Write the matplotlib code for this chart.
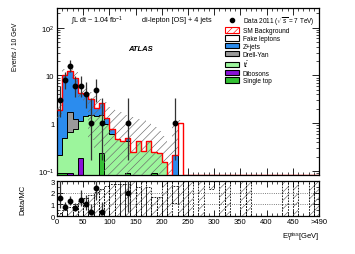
import math

import matplotlib
matplotlib.use("Agg")
import matplotlib.pyplot as plt
import numpy as np
from matplotlib.lines import Line2D
from matplotlib.patches import Patch
from matplotlib.ticker import FixedLocator, FixedFormatter, LogLocator, MultipleLocator, NullFormatter

plt.rcParams["font.family"] = ["Liberation Sans", "DejaVu Sans"]
plt.rcParams["mathtext.fontset"] = "custom"
plt.rcParams["mathtext.rm"] = "Liberation Sans"
plt.rcParams["mathtext.it"] = "Liberation Sans:italic"
plt.rcParams["mathtext.bf"] = "Liberation Sans:bold"
plt.rcParams["hatch.linewidth"] = 0.45

# 10 GeV bins from 0 to 500 (last bin shown as ">490")
bin_edges = np.arange(0, 510, 10)
n_bins = len(bin_edges) - 1

# MC components, first 24 bins (0-240 GeV), zero above
single_top = [0.09, 0.09, 0, 0, 0, 0, 0, 0, 0.24, 0, 0, 0, 0, 0.09, 0, 0, 0, 0, 0.09, 0, 0, 0, 0, 0]
dibosons = [0, 0, 0.09, 0, 0.19, 0, 0, 0, 0, 0, 0, 0, 0, 0, 0, 0, 0, 0, 0, 0, 0, 0, 0, 0]
ttbar = [0.13, 0.41, 0.56, 0.75, 0.91, 1.4, 1.5, 1.4, 1.26, 0.95, 0.6, 0.46, 0.42, 0.33,
         0.25, 0.43, 0.26, 0.43, 0.16, 0.24, 0.15, 0, 0, 0]
drell_yan = [0, 0, 1.05, 0.45, 0, 0, 0, 0, 0, 0, 0, 0, 0, 0, 0, 0, 0, 0, 0, 0, 0, 0, 0, 0]
zjets = [1.68, 9.5, 10.8, 7.6, 3.2, 2.6, 1.7, 0.7, 1.2, 0.35, 0.15, 0, 0, 0.08,
         0, 0, 0, 0, 0, 0, 0, 0, 0.22, 0]
fake_leptons = [0] * 23 + [1.0]

# MC uncertainty band in the main panel
mc_up = [2.6, 13.5, 15.5, 12, 6.5, 5.5, 4.5, 3.7, 3.2, 2.8, 2.2, 1.9, 1.7, 1.5, 1.35, 1.25,
         1.15, 1.0, 0.85, 0.7, 0.55, 0.4, 1.0, 1.15]
mc_dn = [1.3, 7.0, 8.8, 6.2, 3.0, 2.8, 0.45, 0.3, 0.35] + [0] * 13 + [0.22, 1.0]

# observed events per bin
data_counts = [3, 8, 16, 6, 6, 4, 1, 5, 1, 0, 0, 0, 0, 1, 0, 0, 0, 0, 0, 0, 0, 0, 1]

# hatched band in the ratio panel
band_hi = [0.3, 0.55, 0.8, 1.05, 1.3, 1.55, 1.8, 2.05, 2.3, 2.55,
           2.75, 2.75, 2.75, 2.75, 3.5, 2.5, 3.5, 2.5, 1.6, 1.6,
           3.5, 3.5, 2.6, 3.5, 3.5, 3.5, 0, 3.5, 0, 3.5,
           0, 3.5, 3.5, 0, 0, 3.5, 3.5, 0, 0, 0,
           0, 0, 0, 3.5, 0, 3.5, 0, 0, 3.5, 3.5]
band_lo = [0] * 22 + [1.15] + [0] * 6 + [2.3] + [0] * 20

legend_labels = ["Data 2011 ($\\sqrt{s}$ = 7 TeV)", "SM Background", "Fake leptons", "Z+jets",
                 "Drell-Yan", "t$\\bar{t}$", "Dibosons", "Single top"]
colors = {"fake": "white", "zjets": "#2b8cee", "dy": "#9a9a9a", "tt": "#9cf59c",
          "dib": "#8a10d8", "st": "#33c033"}


def pad(vals):
    out = np.zeros(n_bins)
    out[:len(vals)] = vals
    return out


def poisson_cdf(k, lam):
    return sum(math.exp(-lam) * lam ** i / math.factorial(i) for i in range(k + 1))


def garwood(n, alpha=0.15865):
    def solve(f, lo, hi):
        for _ in range(80):
            mid = 0.5 * (lo + hi)
            if f(mid) > 0:
                hi = mid
            else:
                lo = mid
        return 0.5 * (lo + hi)
    low = 0.0 if n == 0 else solve(lambda l: (1 - poisson_cdf(n - 1, l)) - alpha, 0, n + 20)
    up = solve(lambda l: alpha - poisson_cdf(n, l), 0, n + 30)
    return low, up


st = pad(single_top)
dib = pad(dibosons)
tt = pad(ttbar)
dy = pad(drell_yan)
zj = pad(zjets)
fk = pad(fake_leptons)
data = pad(data_counts)
up = pad(mc_up)
dn = pad(mc_dn)
bhi = np.array(band_hi)
blo = np.array(band_lo)

layers = [(st, colors["st"]), (dib, colors["dib"]), (tt, colors["tt"]),
          (dy, colors["dy"]), (zj, colors["zjets"]), (fk, colors["fake"])]
cum = np.cumsum([l[0] for l in layers], axis=0)
total = cum[-1]

fig = plt.figure(figsize=(3.55, 2.55), dpi=100)
ax = fig.add_axes([0.1606, 0.3098, 0.738, 0.655])
rax = fig.add_axes([0.1606, 0.149, 0.738, 0.137])

ymin, ymax = 0.082, 260
base = 1e-4
# cumulative stack, drawn top layer first so lower layers sit in front
for i in range(len(layers) - 1, -1, -1):
    ax.stairs(np.maximum(cum[i], base), bin_edges, baseline=base, fill=True,
              facecolor=layers[i][1], edgecolor="black", lw=0.7, zorder=2)

# uncertainty band
ax.fill_between(bin_edges, np.append(np.maximum(dn, base), base), np.append(np.maximum(up, base), base),
                step="post", facecolor="none", edgecolor="#6a6a6a", hatch="////", lw=0, zorder=3)
ax.stairs(np.maximum(total, ymin * 1.005), bin_edges, baseline=None, color="red", lw=1.0, zorder=4)

centers = 0.5 * (bin_edges[:-1] + bin_edges[1:])
sel = data > 0
lows, ups = zip(*[garwood(int(n)) for n in data[sel]])
yerr = [data[sel] - np.array(lows), np.array(ups) - data[sel]]
ax.errorbar(centers[sel], data[sel], yerr=yerr, fmt="o", color="black", ms=3.2,
            elinewidth=0.9, ecolor="#333333", capsize=0, zorder=5)

ax.set_yscale("log")
ax.set_ylim(ymin, ymax)
ax.set_xlim(0, 500)
ax.yaxis.set_major_locator(FixedLocator([0.1, 1, 10, 100]))
ax.yaxis.set_major_formatter(FixedFormatter([r"$10^{-1}$", "1", "10", r"$10^{2}$"]))
ax.yaxis.set_minor_locator(LogLocator(base=10, subs=np.arange(2, 10)))
ax.yaxis.set_minor_formatter(NullFormatter())
ax.xaxis.set_major_locator(MultipleLocator(50))
ax.xaxis.set_minor_locator(MultipleLocator(10))
ax.set_xticklabels([])
ax.tick_params(which="both", direction="in", top=True, right=True, labelsize=5.5, pad=2)
ax.tick_params(which="major", length=5, width=0.6)
ax.tick_params(which="minor", length=2.5, width=0.5)
for s in ax.spines.values():
    s.set_linewidth(0.9)

ax.text(0.055, 0.93, r"$\int$L dt ~ 1.04 fb$^{-1}$", transform=ax.transAxes, fontsize=5.2, va="center")
ax.text(0.325, 0.93, "di-lepton [OS] + 4 jets", transform=ax.transAxes, fontsize=5.2, va="center")
ax.text(0.27, 0.755, "ATLAS", transform=ax.transAxes, fontsize=5.5, weight="bold", style="italic",
        va="center")

handles = [
    Line2D([], [], marker="o", color="black", ls="none", ms=3),
    Patch(facecolor="white", edgecolor="red", hatch="/////", lw=0.8),
    Patch(facecolor="white", edgecolor="black", lw=0.8),
    Patch(facecolor=colors["zjets"], edgecolor="black", lw=0.8),
    Patch(facecolor=colors["dy"], edgecolor="black", lw=0.8),
    Patch(facecolor=colors["tt"], edgecolor="black", lw=0.8),
    Patch(facecolor=colors["dib"], edgecolor="black", lw=0.8),
    Patch(facecolor=colors["st"], edgecolor="black", lw=0.8),
]
ax.legend(handles, legend_labels, loc="upper right", bbox_to_anchor=(1.0, 0.99), frameon=False,
          fontsize=4.7, handlelength=2.2, handleheight=0.9, labelspacing=0.12,
          handletextpad=0.5, borderpad=0.2)

# ratio panel
ratio_band = np.minimum(bhi, 3.5) - blo
rax.bar(bin_edges[:-1], ratio_band, bottom=blo, width=10, align="edge", facecolor="none",
        edgecolor="#6a6a6a", hatch="////", lw=0, zorder=2)
rax.bar(bin_edges[:-1], ratio_band, bottom=blo, width=10, align="edge", fill=False,
        edgecolor="black", ls=(0, (2, 1.5)), lw=0.6, zorder=3)
for yv in (1, 2):
    rax.axhline(yv, color="#555555", ls=":", lw=0.6, zorder=1)

rsel = (data > 0) & (total > 0)
ratio = np.zeros(n_bins)
ratio[rsel] = data[rsel] / total[rsel]
rsel &= ratio <= 3
r_lo = []
r_up = []
for i in np.where(rsel)[0]:
    lo, hi = garwood(int(data[i]))
    r_lo.append((data[i] - lo) / total[i])
    r_up.append((hi - data[i]) / total[i])
rax.errorbar(centers[rsel], ratio[rsel], yerr=[r_lo, r_up], fmt="o", color="black", ms=3.2,
             elinewidth=0.9, ecolor="#333333", capsize=0, zorder=5)

rax.set_xlim(0, 500)
rax.set_ylim(0, 3)
rax.yaxis.set_major_locator(FixedLocator([0, 1, 2, 3]))
rax.yaxis.set_minor_locator(MultipleLocator(0.5))
rax.xaxis.set_major_locator(FixedLocator(list(range(0, 500, 50)) + [500]))
rax.xaxis.set_major_formatter(FixedFormatter([str(v) for v in range(0, 500, 50)] + [">490"]))
rax.xaxis.set_minor_locator(MultipleLocator(10))
rax.tick_params(which="both", direction="in", top=True, right=True, labelsize=5.5, pad=1.5)
rax.tick_params(which="major", length=4, width=0.6)
rax.tick_params(which="minor", length=2, width=0.5)
for s in rax.spines.values():
    s.set_linewidth(0.9)

fig.text(0.045, 1 - 47 / 255, "Events / 10 GeV", rotation=90, fontsize=4.8, ha="center", va="center")
fig.text(0.065, 1 - 200 / 255, "Data/MC", rotation=90, fontsize=5.5, ha="center", va="center")
fig.text(0.898, 1 - 237 / 255, r"E$_{\mathrm{T}}^{\mathrm{miss}}$[GeV]", fontsize=5.5, ha="right",
         va="center")

fig.savefig("out.png", dpi=100)
